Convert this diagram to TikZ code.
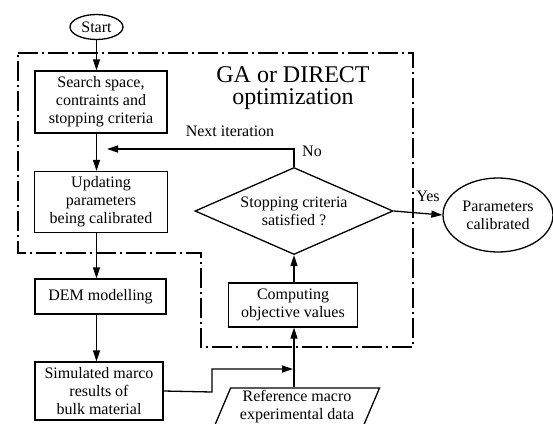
\documentclass[tikz,border=0pt]{standalone}
\usepackage{fontspec}
\setmainfont{Liberation Serif}
\usetikzlibrary{shapes.geometric,arrows.meta}
\begin{document}
\begin{tikzpicture}[x=1pt,y=-1pt,
  every node/.style={font=\fontsize{16}{18}\selectfont, inner sep=0pt, align=center},
  boxnode/.style={draw, line width=1.3pt, rectangle},
  ovalnode/.style={draw, line width=1.3pt, ellipse},
  arr/.style={line width=1.3pt, -{Triangle[length=11pt,width=7pt]}},
  dashdot/.style={line width=1.2pt, dash pattern=on 20pt off 4pt on 2pt off 4pt}]
\useasboundingbox (0,0) rectangle (553,423);
\clip (0,0) rectangle (553,423);
% dash-dot region
\draw[dashdot] (18,53) -- (413,53) -- (413,347) -- (201,347) -- (201,253) -- (18,253) -- cycle;
\node[font=\fontsize{24}{22}\selectfont] (title) at (293,88) {GA or DIRECT\\ optimization};
% nodes
\node[ovalnode, minimum width=53pt, minimum height=25pt] (start) at (96.5,27) {Start};
\node[boxnode, minimum width=132pt, minimum height=62pt] (b1) at (101,102) {Search space,\\ contraints and\\ stopping criteria};
\node[boxnode, minimum width=133pt, minimum height=61pt] (b2) at (101,202) {Updating\\ parameters\\ being calibrated};
\node[boxnode, minimum width=131pt, minimum height=35pt] (dem) at (100.5,296.5) {DEM modelling};
\node[boxnode, minimum width=128pt, minimum height=58pt] (sim) at (99,391) {Simulated marco\\ results of\\ bulk material};
\node[draw, line width=1.3pt, diamond, aspect=2.28, minimum width=198pt, minimum height=87pt] (dia) at (294,211) {Stopping criteria\\ satisfied ?};
\node[boxnode, minimum width=129pt, minimum height=44pt] (comp) at (293,305) {Computing\\ objective values};
\node[ovalnode, minimum width=110pt, minimum height=74pt] (par) at (498,215) {Parameters\\ calibrated};
\node[draw, line width=1.3pt, trapezium, trapezium left angle=67, trapezium right angle=113, minimum width=145pt, minimum height=38pt] (ref) at (297,407) {Reference macro\\ experimental data};
% labels
\node (lni) at (230,131) {Next iteration};
\node (lno) at (312,151) {No};
\node (lyes) at (428,196) {Yes};
% connectors
\coordinate (ni) at (107,149);
\coordinate (jn) at (293,369);
\draw[arr] (start.south) -- (start.south |- b1.north);
\draw[arr] (b1.south -| start.south) -- (b2.north -| start.south);
\draw[arr] (b2.south -| start.south) -- (dem.north -| start.south);
\draw[arr] (dem.south -| start.south) -- (sim.north -| start.south);
\draw[arr] (dia.north) |- (ni);
\draw[arr] (dia.east) -- (par.west);
\draw[arr] (comp.north -| dia.south) -- (dia.south);
\draw[arr] (ref.north -| dia.south) -- (comp.south -| dia.south);
\draw[arr] (sim.east) -- (212,392) |- (jn);
\end{tikzpicture}
\end{document}
